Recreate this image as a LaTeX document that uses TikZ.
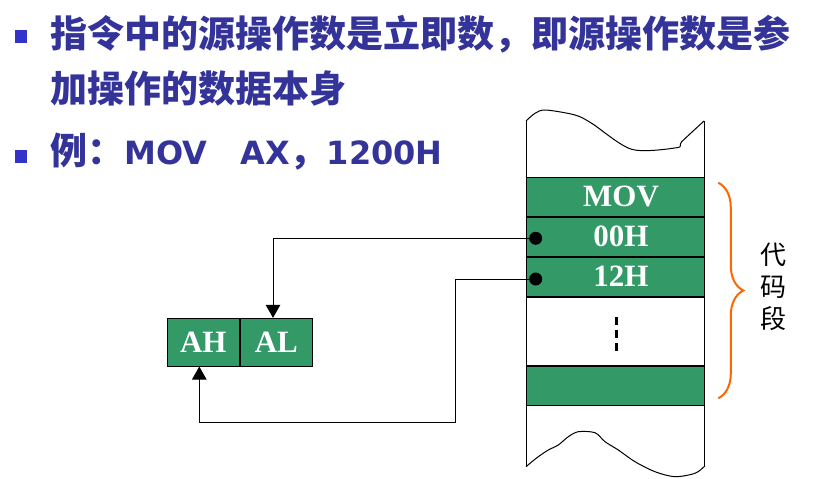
\documentclass[tikz,border=0pt]{standalone}
\usepackage{fontspec}
\usepackage{tikz}
\usepackage{xcolor}
\usetikzlibrary{positioning, arrows.meta, decorations.pathreplacing}
\newfontfamily\cjkfont{Noto Sans CJK SC}
\newfontfamily\latinfont{DejaVu Sans}
\newfontfamily\cellfont{Liberation Serif}
\definecolor{cellgreen}{HTML}{339966}
\definecolor{titleblue}{HTML}{333399}
\definecolor{bulletblue}{HTML}{3333CC}
\definecolor{braceorange}{HTML}{FF6600}

\tikzset{
    bullet/.style = {fill = bulletblue, rectangle, minimum width = 12pt, minimum height = 13pt, inner sep = 0pt},
    cell/.style = {fill = cellgreen, draw, rectangle, minimum width = 178pt, minimum height = 39pt, inner sep = 0pt,
        text = white, font = \cellfont\bfseries\fontsize{31}{31}\selectfont, execute at begin node = \hspace*{12pt}},
    blankcell/.style = {draw, rectangle, minimum width = 178pt, minimum height = 68pt, inner sep = 0pt},
    reg/.style = {fill = cellgreen, draw, rectangle, minimum width = 72pt, minimum height = 47.7pt, inner sep = 0pt,
        text = white, font = \cellfont\bfseries\fontsize{31}{31}\selectfont},
    wire/.style = {-{Triangle[width = 14.5pt, length = 13pt]}, line width = 1pt}
}

\begin{document}
\begin{tikzpicture}[x = 1pt, y = -1pt, line width = 1pt]

        \useasboundingbox (0, 0) rectangle (819, 479);

        % Title
        \node [bullet] (b1) at (21, 36.5) {};
        \node [anchor = west, inner sep = 0pt, text = titleblue, font = \cjkfont\bfseries\fontsize{37}{37}\selectfont] (line1) at (50, 34) {指令中的源操作数是立即数，即源操作数是参};
        \node [anchor = west, inner sep = 0pt, text = titleblue, font = \cjkfont\bfseries\fontsize{37}{37}\selectfont] (line2) at (50, 88) {加操作的数据本身};
        \node [bullet] (b2) at (21, 156.5) {};
        \node [anchor = west, inner sep = 0pt, text = titleblue, font = \cjkfont\bfseries\fontsize{37}{37}\selectfont] (line3) at (50, 152)
            {例：{\latinfont\fontsize{32}{32}\selectfont MOV\hspace{33pt}AX}，{\latinfont\fontsize{32}{32}\selectfont 1200H}};

        % Memory
        \draw (526, 120) -- (526, 466.7);
        \draw (704, 121) -- (704, 466.7);
        \draw plot [smooth, tension = 0.5] coordinates {(526, 121) (535, 113.3) (545.7, 110) (575, 115) (591.7, 123.3) (631.7, 149.3) (676.7, 147.7) (681.7, 141.7) (704, 121)};
        \draw plot [smooth, tension = 0.5] coordinates {(526, 466.7) (530, 463.3) (538.3, 456.7) (548.3, 450) (558.3, 445) (568.3, 436.7) (578.3, 431.7) (595, 432.7) (605, 441.7) (618.3, 450) (635, 461.7) (655, 471.7) (675, 476.7) (695, 473.3) (704, 466.7)};

        \node [cell] (mov) at (615, 196.5) {MOV};
        \node [cell, below = 0pt of mov] (c00) {00H};
        \node [cell, below = 0pt of c00] (c12) {12H};
        \node [blankcell, below = 0pt of c12] (gap) {};
        \node [cell, below = 0pt of gap] (last) {};
        \draw [line width = 3.5pt, dash pattern = on 8pt off 5pt] (616.7, 317) -- (616.7, 351);

        % Code segment
        \draw [decorate, decoration = {brace, amplitude = 25pt}, draw = braceorange, line width = 2pt] (718.3, 182.7) -- (718.3, 398.3);
        \node [align = center, inner sep = 0pt, font = \cjkfont\fontsize{26}{31.7}\selectfont] (seg) at (773, 286.7) {代\\码\\段};

        % Register
        \node [reg] (ah) at (203.3, 342.2) {AH};
        \node [reg, right = 0pt of ah] (al) {AL};

        % Data paths
        \coordinate (p00) at (535.7, 238.3);
        \coordinate (p12) at (535.7, 279);
        \coordinate (bend) at (455, 422.3);
        \draw [wire] (p00) -| ([xshift = -3.3pt] al.north);
        \draw [wire] (p12) -| (bend) -| ([xshift = -4pt] ah.south);
        \fill (p00) circle (6.5pt);
        \fill (p12) circle (6.5pt);

    \end{tikzpicture}
\end{document}
